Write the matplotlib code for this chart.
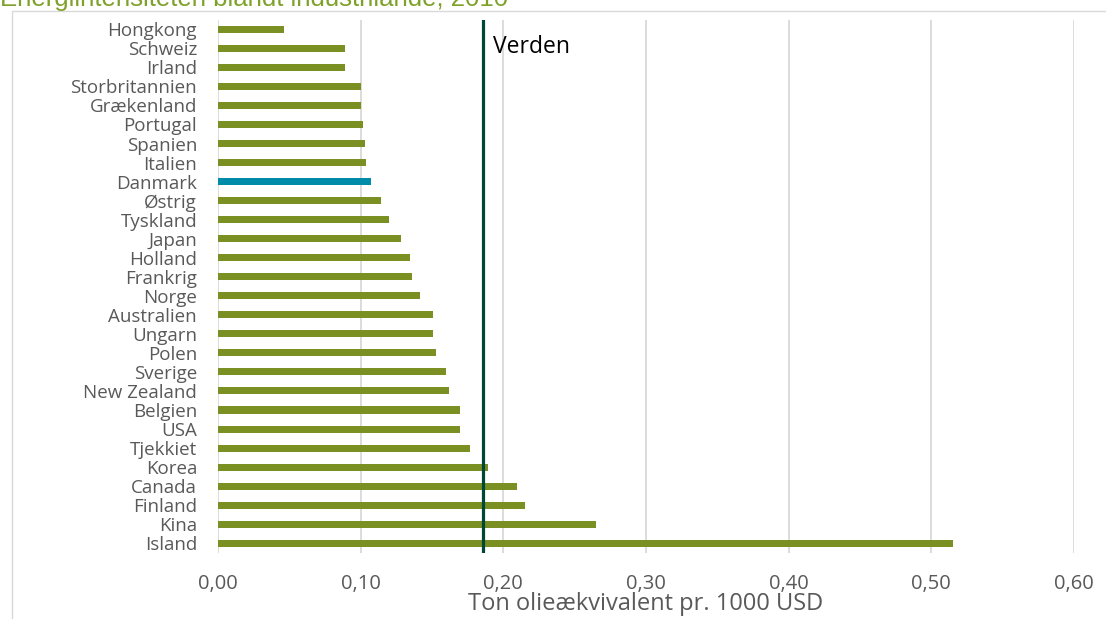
import matplotlib.pyplot as plt
from matplotlib.patches import Rectangle
import numpy as np

# data (top to bottom as in the chart)
LANDE = ["Hongkong", "Schweiz", "Irland", "Storbritannien", "Grækenland", "Portugal",
         "Spanien", "Italien", "Danmark", "Østrig", "Tyskland", "Japan", "Holland",
         "Frankrig", "Norge", "Australien", "Ungarn", "Polen", "Sverige", "New Zealand",
         "Belgien", "USA", "Tjekkiet", "Korea", "Canada", "Finland", "Kina", "Island"]
INTENSITET = [0.046, 0.089, 0.089, 0.100, 0.100, 0.102, 0.103, 0.104, 0.107, 0.114,
              0.120, 0.128, 0.135, 0.136, 0.142, 0.151, 0.151, 0.153, 0.160, 0.162,
              0.170, 0.170, 0.177, 0.189, 0.210, 0.215, 0.265, 0.515]
VERDEN = 0.186
XTICKS = [0.0, 0.1, 0.2, 0.3, 0.4, 0.5, 0.6]

GROEN = "#7a9022"
DANMARK_FARVE = "#008ba8"
LINJE_FARVE = "#00473a"
TEKST = "#595959"

plt.rcParams["font.family"] = ["Open Sans", "DejaVu Sans"]

fig = plt.figure(figsize=(11.06, 6.19), dpi=100)
ax = fig.add_axes([0.197, 0.107, 0.774, 0.861])

n = len(LANDE)
y = np.arange(n)[::-1]
farver = [DANMARK_FARVE if l == "Danmark" else GROEN for l in LANDE]
ax.barh(y, INTENSITET, height=0.37, color=farver, zorder=3)

ax.axvline(VERDEN, color=LINJE_FARVE, lw=2.3, zorder=4)
ax.text(VERDEN + 0.007, n - 2 + 0.05, "Verden", fontsize=16.5, color="black",
        va="center", ha="left")

ax.set_xlim(0, 0.6)
ax.set_ylim(-0.5, n - 0.5)
ax.set_yticks(y)
ax.set_yticklabels(LANDE, fontsize=13.5, color=TEKST)
ax.set_xticks(XTICKS)
ax.set_xticklabels([f"{v:.2f}".replace(".", ",") for v in XTICKS], fontsize=14.5, color=TEKST)
ax.tick_params(axis="both", length=0)
ax.tick_params(axis="x", pad=15)
ax.tick_params(axis="y", pad=15)
ax.xaxis.grid(True, color="#d9d9d9", lw=1.3, zorder=0)
ax.set_axisbelow(True)
for s in ax.spines.values():
    s.set_visible(False)
ax.set_xlabel("Ton olieækvivalent pr. 1000 USD", fontsize=17, color=TEKST, labelpad=-1)

# outer frame and cropped title
fig.patches.append(Rectangle((12 / 1106, -0.01), 1106 / 1106, 1 - 11 / 619 + 0.01,
                             transform=fig.transFigure, fill=False,
                             edgecolor="#d9d9d9", lw=1.0))
fig.text(0.0, 1.0 - 6 / 619, "Energiintensiteten blandt industrilande, 2010",
         family="Liberation Sans", fontsize=18.5, color="#7fa12a", ha="left", va="baseline")

fig.savefig("out.png", dpi=100)
